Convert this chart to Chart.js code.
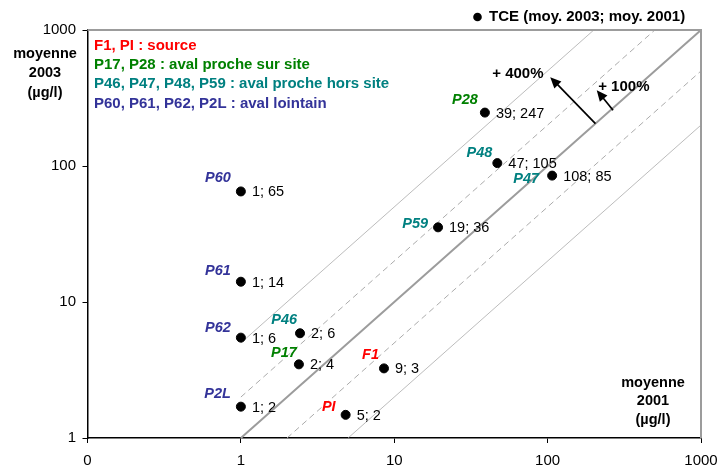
<!DOCTYPE html>
<html><head><meta charset="utf-8">
<script src="https://cdn.jsdelivr.net/npm/chart.js@4/dist/chart.umd.min.js"></script>
<style>html,body{margin:0;padding:0;background:#fff}canvas{display:block}</style>
</head><body>
<canvas id="c" width="720" height="470"></canvas>
<script>
// ---- data ----
const names = ['P28','P48','P47','P59','P60','P61','P62','P46','P17','F1','PI','P2L'];
const moy2001 = [39, 47, 107, 19.3, 1, 1, 1, 2.43, 2.39, 8.57, 4.82, 1];
const moy2003 = [247, 105, 85, 35.4, 65, 14.1, 5.47, 5.89, 3.48, 3.25, 1.48, 1.7];
const valueLabels = ['39; 247','47; 105','108; 85','19; 36','1; 65','1; 14','1; 6','2; 6','2; 4','9; 3','5; 2','1; 2'];
const pointGroup = [1,2,2,2,3,3,3,2,1,0,0,3];
const groupNames = ['F1, PI : source','P17, P28 : aval proche sur site','P46, P47, P48, P59 : aval proche hors site','P60, P61, P62, P2L : aval lointain'];
const ratios = [1, 2, 5, 0.5, 0.2];
const xTicks = [0.1, 1, 10, 100, 1000];
const yTicks = [1, 10, 100, 1000];
const legendText = 'TCE (moy. 2003; moy. 2001)';
const yTitle = ['moyenne','2003','(µg/l)'];
const xTitle = ['moyenne','2001','(µg/l)'];
const arrowNotes = [
  {label:'+ 400%', from:[205,205], to:[104,450], at:[64,475]},
  {label:'+ 100%', from:[267,257], to:[209,361], at:[314,379]}
];

// ---- styles ----
const FONT = '"Liberation Sans", Arial, sans-serif';
const groupColors = ['#ff0000','#008000','#008080','#333399'];
const nameOffsets = [[-7,-13],[-5,-10],[-13,3],[-10,-3],[-10,-13],[-10,-11],[-10,-10],[-3,-13],[-2,-11],[-5,-13],[-10,-8],[-10,-13]];
const lineStyles = {
  1:{color:'#9c9c9c', width:2, dash:[]},
  2:{color:'#ababab', width:1, dash:[6,4]},
  0.5:{color:'#ababab', width:1, dash:[6,4]},
  5:{color:'#ababab', width:0.8, dash:[]},
  0.2:{color:'#ababab', width:0.8, dash:[]}
};

const refDatasets = ratios.map(r => {
  const x0 = Math.max(1, 1 / r), x1 = Math.min(1000, 1000 / r);
  const s = lineStyles[r];
  return {type:'line', data:[{x:x0, y:x0*r},{x:x1, y:x1*r}], borderColor:s.color, borderWidth:s.width,
    borderDash:s.dash, pointRadius:0, fill:false, clip:false, order:2};
});

const pts = moy2001.map((x,i) => ({x, y:moy2003[i]}));

const annot = {
  id:'annot',
  afterDatasetsDraw(chart){
    const ctx = chart.ctx, xs = chart.scales.x, ys = chart.scales.y, a = chart.chartArea;
    ctx.save();
    // top & right gray frame
    ctx.strokeStyle = '#9c9c9c'; ctx.lineWidth = 2;
    ctx.beginPath(); ctx.moveTo(a.left, a.top); ctx.lineTo(a.right, a.top); ctx.lineTo(a.right, a.bottom); ctx.stroke();
    // group legend
    ctx.textBaseline = 'middle'; ctx.textAlign = 'left';
    ctx.font = 'bold 15px ' + FONT;
    groupNames.forEach((g,i) => { ctx.fillStyle = groupColors[i]; ctx.fillText(g, a.left + 6.5, a.top + 15.5 + i*19.3); });
    // point labels
    pts.forEach((p,i) => {
      const px = xs.getPixelForValue(p.x), py = ys.getPixelForValue(p.y);
      ctx.font = 'italic bold 14.5px ' + FONT; ctx.fillStyle = groupColors[pointGroup[i]]; ctx.textAlign = 'right';
      ctx.fillText(names[i], px + nameOffsets[i][0], py + nameOffsets[i][1]);
      ctx.font = '14.5px ' + FONT; ctx.fillStyle = '#000'; ctx.textAlign = 'left';
      ctx.fillText(valueLabels[i], px + 11, py + 1);
    });
    // arrows
    arrowNotes.forEach(n => {
      const x0 = xs.getPixelForValue(n.from[0]), y0 = ys.getPixelForValue(n.from[1]);
      const x1 = xs.getPixelForValue(n.to[0]), y1 = ys.getPixelForValue(n.to[1]);
      const ang = Math.atan2(y1 - y0, x1 - x0), L = 12, W = 0.42;
      ctx.strokeStyle = '#000'; ctx.fillStyle = '#000'; ctx.lineWidth = 1.7;
      ctx.beginPath(); ctx.moveTo(x0, y0); ctx.lineTo(x1 - Math.cos(ang)*6, y1 - Math.sin(ang)*6); ctx.stroke();
      ctx.beginPath(); ctx.moveTo(x1, y1);
      ctx.lineTo(x1 - L*Math.cos(ang - W), y1 - L*Math.sin(ang - W));
      ctx.lineTo(x1 - L*Math.cos(ang + W), y1 - L*Math.sin(ang + W));
      ctx.closePath(); ctx.fill();
      ctx.font = 'bold 15px ' + FONT; ctx.textAlign = 'center';
      ctx.fillText(n.label, xs.getPixelForValue(n.at[0]), ys.getPixelForValue(n.at[1]));
    });
    // TCE legend
    ctx.beginPath(); ctx.arc(a.left + 390, 17, 4.3, 0, Math.PI*2); ctx.fill();
    ctx.font = 'bold 15px ' + FONT; ctx.textAlign = 'left';
    ctx.fillText(legendText, a.left + 401.5, 17);
    // axis titles
    ctx.font = 'bold 14.5px ' + FONT; ctx.textAlign = 'center';
    yTitle.forEach((t,i) => ctx.fillText(t, 45, 53.5 + i*19.8));
    xTitle.forEach((t,i) => ctx.fillText(t, a.right - 48, a.bottom - 55.5 + i*18.8));
    ctx.restore();
  }
};

new Chart(document.getElementById('c'), {
  type:'scatter',
  data:{datasets:[
    {data:pts, backgroundColor:'#000', borderColor:'#000', pointRadius:4.5, pointHoverRadius:4.5, order:1},
    ...refDatasets
  ]},
  options:{
    responsive:false, animation:false, devicePixelRatio:1,
    layout:{padding:{left:0, top:30, right:19, bottom:0}},
    plugins:{legend:{display:false}, tooltip:{enabled:false}},
    scales:{
      x:{type:'logarithmic', min:0.1, max:1000,
        afterBuildTicks(s){ s.ticks = xTicks.map(v => ({value:v})); },
        afterFit(s){ s.height = 32; s.paddingLeft = 0; s.paddingRight = 0; },
        ticks:{callback:v => v === 0.1 ? '0' : String(v), font:{family:FONT, size:15}, color:'#000', padding:9, maxRotation:0, autoSkip:false},
        grid:{display:true, drawOnChartArea:false, drawTicks:true, tickLength:5, color:'#000', lineWidth:1},
        border:{display:true, color:'#000', width:1.5}
      },
      y:{type:'logarithmic', min:1, max:1000,
        afterBuildTicks(s){ s.ticks = yTicks.map(v => ({value:v})); },
        afterFit(s){ s.width = 87.5; s.paddingTop = 0; s.paddingBottom = 0; },
        ticks:{callback:v => String(v), font:{family:FONT, size:15}, color:'#000', padding:6.5, autoSkip:false},
        grid:{display:true, drawOnChartArea:false, drawTicks:true, tickLength:5, color:'#000', lineWidth:1},
        border:{display:true, color:'#000', width:1.5}
      }
    }
  },
  plugins:[annot]
});
</script>
</body></html>
